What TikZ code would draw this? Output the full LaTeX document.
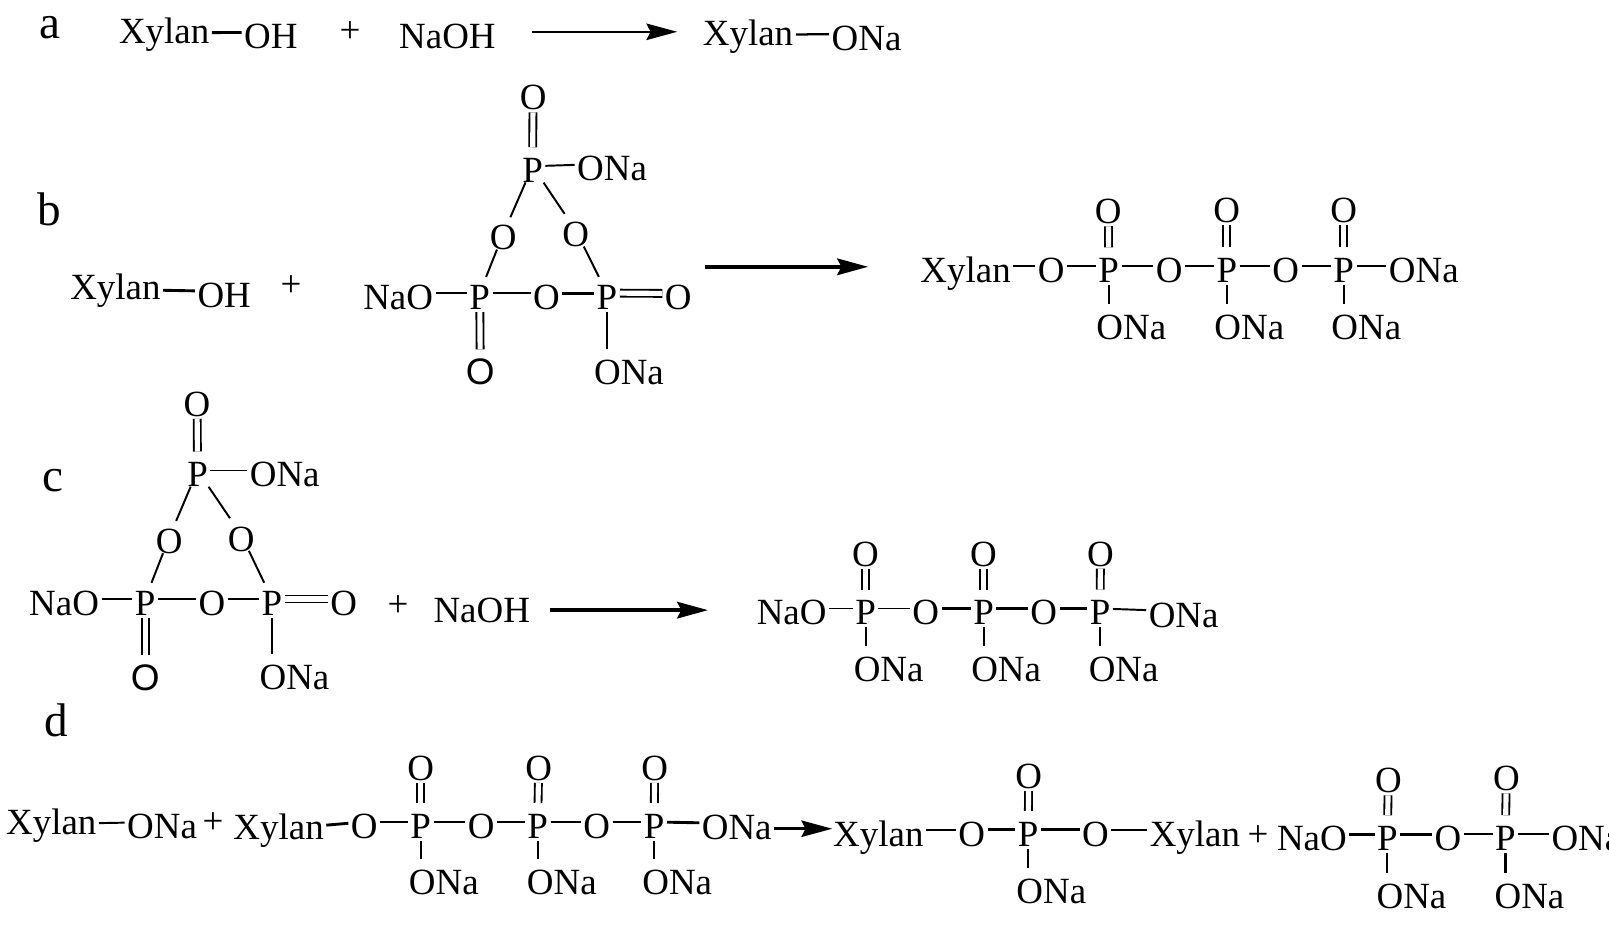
\documentclass[tikz,border=0pt]{standalone}
\usepackage{fontspec}
\setmainfont{Liberation Serif}
\setsansfont{Liberation Sans}
\usetikzlibrary{positioning,arrows.meta}

\tikzset{
	atom/.style={anchor=base,inner sep=0pt,outer sep=2.5pt,text height=32pt,text depth=0pt,font=\fontsize{36}{40}\selectfont},
	grp/.style={atom,anchor=base west,xshift=-2.5pt},
	xyl/.style={grp,text height=20pt},
	sfO/.style={atom,font=\sffamily\fontsize{36}{40}\selectfont},
	lbl/.style={anchor=base,inner sep=0pt,font=\fontsize{46}{50}\selectfont},
	bnd/.style={line width=1.9pt},
	thk/.style={line width=2.8pt},
	rng/.style={bnd,shorten <=-3pt,shorten >=-3pt},
	dbl/.style={line width=1.8pt,double,double distance=5pt},
	arr/.style={-{Stealth[length=30pt,width=16pt,inset=4pt]}}
}

\begin{document}
\begin{tikzpicture}[x=1pt,y=-1pt]
	\useasboundingbox (0,0) rectangle (1568,910);

	% panel a
	\node[lbl] (la) at (49,38) {a};
	\node[xyl] (aX) at (116,42) {Xylan};
	\node[grp] (aOH) at (238,47.5) {OH};
	\node[atom] (aplus) at (341,41.5) {+};
	\node[grp] (aNaOH) at (389,47) {NaOH};
	\node[xyl] (aX2) at (685,44) {Xylan};
	\node[grp] (aONa) at (810.5,49) {ONa};
	\coordinate (aS) at (518,31);
	\coordinate (aT) at (660,31);
	\draw[thk] (aX) -- (aOH);
	\draw[thk,line width=2.2pt] (aX2) -- (aONa);
	\draw[arr,line width=2.4pt] (aS) -- (aT);

	% panel b, reactants
	\node[lbl] (lb) at (48,220) {b};
	\node[xyl] (bX) at (68.5,292) {Xylan};
	\node[grp] (bOH) at (192.5,300) {OH};
	\node[atom] (bplus) at (283.5,289) {+};
	\node[atom] (bO0) at (519.5,107) {O};
	\node[atom] (bP0) at (519,178) {P};
	\node[grp] (bONa0) at (562.5,175.5) {ONa};
	\node[atom] (bOl) at (490.5,243.5) {O};
	\node[atom] (bOr) at (561,240.5) {O};
	\node[grp] (bNaO) at (354,301.6) {NaO};
	\node[atom] (bPl) at (467.5,301.6) {P};
	\node[atom] (bOm) at (532.5,301.6) {O};
	\node[atom] (bPr) at (591.5,301.6) {P};
	\node[atom] (bOe) at (661,302) {O};
	\node[sfO] (bOb) at (468,375) {O};
	\node[grp] (bONa1) at (579,374.5) {ONa};
	\draw[thk] (bX) -- (bOH);
	\draw[dbl] (bP0) -- (bO0);
	\draw[bnd] (bP0) -- (bONa0);
	\draw[rng] (bP0) -- (bOl);
	\draw[rng] (bP0) -- (bOr);
	\draw[rng] (bOl) -- (bPl);
	\draw[rng] (bOr) -- (bPr);
	\draw[bnd] (bNaO) -- (bPl);
	\draw[bnd] (bPl) -- (bOm);
	\draw[thk] (bOm) -- (bPr);
	\draw[dbl] (bPr) -- (bOe);
	\draw[dbl] (bPl) -- (bOb);
	\draw[bnd] (bPr) -- (bPr |- bONa1.north);
	\coordinate (bS) at (687.5,260);
	\coordinate (bT) at (846,260);
	\draw[arr,line width=4pt] (bS) -- (bT);

	% panel b, product
	\node[grp] (bX2) at (897,275.6) {Xylan};
	\node[atom] (b1) at (1024.5,275.6) {O};
	\node[atom] (b2) at (1080.5,275.6) {P};
	\node[atom] (b3) at (1139.5,275.6) {O};
	\node[atom] (b4) at (1195.5,275.6) {P};
	\node[atom] (b5) at (1253,275.6) {O};
	\node[atom] (b6) at (1309.5,275.6) {P};
	\node[grp] (b7) at (1353.5,275.6) {ONa};
	\node[atom] (bt2) at (1080,218) {O};
	\node[atom] (bt4) at (1195.5,217) {O};
	\node[atom] (bt6) at (1309.5,217) {O};
	\node[grp] (bs2) at (1068.5,330.5) {ONa};
	\node[grp] (bs4) at (1183.5,330.5) {ONa};
	\node[grp] (bs6) at (1297.5,330.5) {ONa};
	\draw[bnd] (bX2) -- (b1);
	\draw[bnd] (b1) -- (b2);
	\draw[bnd] (b2) -- (b3);
	\draw[bnd] (b3) -- (b4);
	\draw[bnd] (b4) -- (b5);
	\draw[bnd] (b5) -- (b6);
	\draw[bnd] (b6) -- (b7);
	\draw[dbl] (b2) -- (bt2);
	\draw[dbl] (b4) -- (bt4);
	\draw[dbl] (b6) -- (bt6);
	\draw[bnd] (b2) -- (b2 |- bs2.north);
	\draw[bnd] (b4) -- (b4 |- bs4.north);
	\draw[bnd] (b6) -- (b6 |- bs6.north);

	% panel c, reactants
	\node[lbl] (lc) at (52,479) {c};
	\node[atom] (cO0) at (192,405.6) {O};
	\node[atom] (cP0) at (192.5,474.5) {P};
	\node[grp] (cONa0) at (243.5,474.5) {ONa};
	\node[atom] (cOl) at (165,539.4) {O};
	\node[atom] (cOr) at (235,537) {O};
	\node[grp] (cNaO) at (28.5,599.7) {NaO};
	\node[atom] (cPl) at (141.5,599.7) {P};
	\node[atom] (cOm) at (206.5,599.7) {O};
	\node[atom] (cPr) at (265,599.7) {P};
	\node[atom] (cOe) at (335,599.7) {O};
	\node[sfO] (cOb) at (141.5,672.8) {O};
	\node[grp] (cONa1) at (253,671.8) {ONa};
	\node[atom] (cplus) at (388,601) {+};
	\node[grp] (cNaOH) at (422.5,607) {NaOH};
	\draw[dbl] (cP0) -- (cO0);
	\draw[bnd] (cP0) -- (cONa0);
	\draw[rng] (cP0) -- (cOl);
	\draw[rng] (cP0) -- (cOr);
	\draw[rng] (cOl) -- (cPl);
	\draw[rng] (cOr) -- (cPr);
	\draw[bnd] (cNaO) -- (cPl);
	\draw[bnd] (cPl) -- (cOm);
	\draw[bnd] (cOm) -- (cPr);
	\draw[dbl] (cPr) -- (cOe);
	\draw[dbl] (cPl) -- (cOb);
	\draw[bnd] (cPr) -- (cPr |- cONa1.north);
	\coordinate (cS) at (536,594.6);
	\coordinate (cT) at (690,594.6);
	\draw[arr,line width=4pt] (cS) -- (cT);

	% panel c, product
	\node[grp] (c0) at (737.5,609) {NaO};
	\node[atom] (c2) at (843.5,609) {P};
	\node[atom] (c3) at (902,609) {O};
	\node[atom] (c4) at (958.5,609) {P};
	\node[atom] (c5) at (1017,609) {O};
	\node[atom] (c6) at (1072,609) {P};
	\node[grp] (c7) at (1119.5,611.8) {ONa};
	\node[atom] (ct2) at (843.5,552.3) {O};
	\node[atom] (ct4) at (958.5,551.6) {O};
	\node[atom] (ct6) at (1072.5,551.6) {O};
	\node[grp] (cs2) at (832,664.4) {ONa};
	\node[grp] (cs4) at (946.5,664.4) {ONa};
	\node[grp] (cs6) at (1061,664.4) {ONa};
	\draw[bnd] (c0) -- (c2);
	\draw[bnd] (c2) -- (c3);
	\draw[thk] (c3) -- (c4);
	\draw[thk] (c4) -- (c5);
	\draw[thk] (c5) -- (c6);
	\draw[bnd] (c6) -- (c7);
	\draw[dbl] (c2) -- (ct2);
	\draw[dbl] (c4) -- (ct4);
	\draw[dbl] (c6) -- (ct6);
	\draw[bnd] (c2) -- (c2 |- cs2.north);
	\draw[bnd] (c4) -- (c4 |- cs4.north);
	\draw[bnd] (c6) -- (c6 |- cs6.north);

	% panel d, reactants
	\node[lbl] (ld) at (55,718) {d};
	\node[xyl] (dX) at (6,813) {Xylan};
	\node[grp] (dONa) at (124,817) {ONa};
	\node[atom] (dplus) at (207.5,812) {+};
	\node[xyl] (dX1) at (227.5,818) {Xylan};
	\node[atom] (d1) at (355,817) {O};
	\node[atom] (d2) at (410,817) {P};
	\node[atom] (d3) at (469,817) {O};
	\node[atom] (d4) at (524,817) {P};
	\node[atom] (d5) at (581.5,817) {O};
	\node[atom] (d6) at (637.5,817) {P};
	\node[grp] (d7) at (684,818.5) {ONa};
	\node[atom] (dt2) at (410,760.5) {O};
	\node[atom] (dt4) at (525,760.5) {O};
	\node[atom] (dt6) at (638,760.5) {O};
	\node[grp] (ds2) at (398.5,872) {ONa};
	\node[grp] (ds4) at (513.5,872) {ONa};
	\node[grp] (ds6) at (626,872) {ONa};
	\draw[bnd] (dX) -- (dONa);
	\draw[thk] (dX1) -- (d1);
	\draw[bnd] (d1) -- (d2);
	\draw[bnd] (d2) -- (d3);
	\draw[bnd] (d3) -- (d4);
	\draw[bnd] (d4) -- (d5);
	\draw[bnd] (d5) -- (d6);
	\draw[thk] (d6) -- (d7);
	\draw[dbl] (d2) -- (dt2);
	\draw[dbl] (d4) -- (dt4);
	\draw[dbl] (d6) -- (dt6);
	\draw[bnd] (d2) -- (d2 |- ds2.north);
	\draw[bnd] (d4) -- (d4 |- ds4.north);
	\draw[bnd] (d6) -- (d6 |- ds6.north);
	\coordinate (dS) at (754,807.6);
	\coordinate (dT) at (811,807.6);
	\draw[arr,line width=2.8pt] (dS) -- (dT);

	% panel d, products
	\node[grp] (eX) at (812,824.7) {Xylan};
	\node[atom] (e1) at (947,824.7) {O};
	\node[atom] (e2) at (1002,824.7) {P};
	\node[atom] (e3) at (1067.5,824.7) {O};
	\node[grp] (eX2) at (1120.5,824.7) {Xylan};
	\node[atom] (et2) at (1002.5,768.4) {O};
	\node[grp] (es2) at (990.5,880) {ONa};
	\node[atom] (eplus) at (1226,824.5) {+};
	\node[grp] (f0) at (1244.5,829) {NaO};
	\node[atom] (f2) at (1352,829) {P};
	\node[atom] (f3) at (1411,829) {O};
	\node[atom] (f4) at (1467,829) {P};
	\node[grp] (f5) at (1512,829) {ONa};
	\node[atom] (ft2) at (1353,772.6) {O};
	\node[atom] (ft4) at (1468,770.7) {O};
	\node[grp] (fs2) at (1341.5,885) {ONa};
	\node[grp] (fs4) at (1456.5,885) {ONa};
	\draw[bnd] (eX) -- (e1);
	\draw[thk] (e1) -- (e2);
	\draw[thk] (e2) -- (e3);
	\draw[bnd] (e3) -- (eX2);
	\draw[dbl] (e2) -- (et2);
	\draw[bnd] (e2) -- (e2 |- es2.north);
	\draw[thk] (f0) -- (f2);
	\draw[thk] (f2) -- (f3);
	\draw[bnd] (f3) -- (f4);
	\draw[bnd] (f4) -- (f5);
	\draw[dbl] (f2) -- (ft2);
	\draw[dbl] (f4) -- (ft4);
	\draw[bnd] (f2) -- (f2 |- fs2.north);
	\draw[thk] (f4) -- (f4 |- fs4.north);
\end{tikzpicture}
\end{document}
